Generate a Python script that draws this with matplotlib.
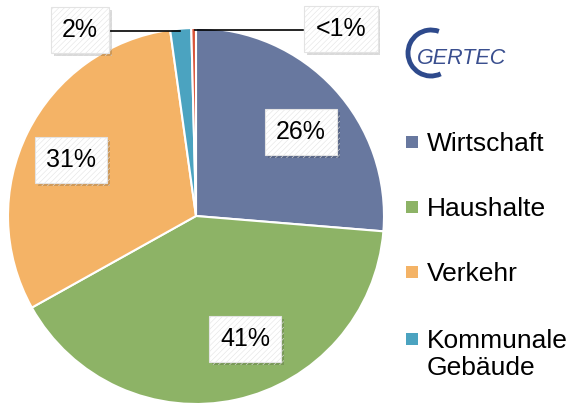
import matplotlib
matplotlib.use("Agg")
import matplotlib.pyplot as plt
import matplotlib.patheffects as pe
from matplotlib.patches import Arc, Rectangle

plt.rcParams['font.family'] = ['Liberation Sans', 'DejaVu Sans']
plt.rcParams['hatch.linewidth'] = 0.4

# data
sectors = ['Wirtschaft', 'Haushalte', 'Verkehr', 'Kommunale\nGebäude', 'Sonstige']
shares = [26.3, 40.6, 30.9, 1.8, 0.4]
labels = ['26%', '41%', '31%', '2%', '<1%']
colors = ['#68789f', '#8db366', '#f4b366', '#4ba3c0', '#d9553a']

fig = plt.figure(figsize=(5.69, 4.03), dpi=100)
ax = fig.add_axes([0, 0, 1, 1])

# pie (center / radius in pixel units)
wedges, _ = ax.pie(shares, colors=colors, startangle=90, counterclock=False,
                   center=(196, 403 - 216), radius=188, frame=True,
                   wedgeprops=dict(edgecolor='white', linewidth=1.5))
ax.set_xlim(0, 569)
ax.set_ylim(0, 403)
ax.axis('off')

# data labels
box = dict(boxstyle='square,pad=0.45', facecolor='white', edgecolor='#e3e3e3',
           linewidth=0.8, hatch='//////')
label_pos = [(301, 403 - 132), (245, 403 - 339), (71, 403 - 160),
             (80, 403 - 30), (341, 403 - 29)]
for lab, (x, y) in zip(labels, label_pos):
    t = ax.text(x, y, lab, fontsize=18, ha='center', va='center', zorder=5,
                bbox=box)
    t.get_bbox_patch().set_path_effects([
        pe.SimplePatchShadow(offset=(2, -2), shadow_rgbFace='black', alpha=0.15),
        pe.Normal()])

# leader lines for the small slices
ax.plot([109, 180], [403 - 31, 403 - 31], color='black', lw=1.2, zorder=3)
ax.plot([195, 303], [403 - 30, 403 - 30], color='black', lw=1.2, zorder=3)

# legend (drawn by hand so the two-line entry lines up like the original)
leg_y = [142, 207, 272, 339]
for name, col, y in zip(sectors[:4], colors[:4], leg_y):
    ax.add_patch(Rectangle((406, 403 - y - 6), 12, 12, facecolor=col,
                           edgecolor='none'))
    ax.text(427, 403 - y + 10, name, fontsize=19, ha='left', va='top',
            linespacing=1.15)

# logo
ax.add_patch(Arc((431, 403 - 53), 46, 46, theta1=70, theta2=295,
                 color='#2e4a8c', lw=3.5))
ax.text(462, 403 - 58, 'GERTEC', fontsize=15.5, style='italic', color='#3a4f8f',
        ha='center', va='center')

fig.savefig('out.png', dpi=100)
